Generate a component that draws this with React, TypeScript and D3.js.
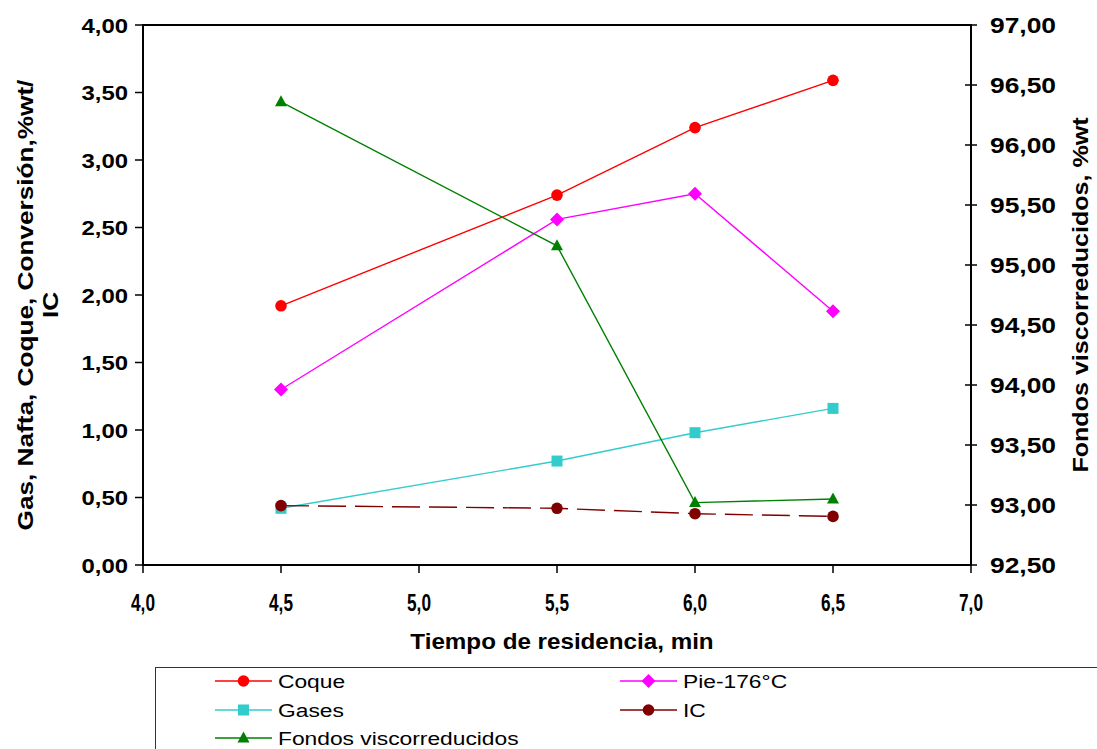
import React from "react";
import * as d3 from "d3";

const xValues = [4.5, 5.5, 6.0, 6.5];
const coque = [1.92, 2.74, 3.24, 3.59];
const pie176 = [1.3, 2.56, 2.75, 1.88];
const gases = [0.42, 0.77, 0.98, 1.16];
const ic = [0.44, 0.42, 0.38, 0.36];
const fondos = [96.36, 95.16, 93.02, 93.05];

const xTicks = [4.0, 4.5, 5.0, 5.5, 6.0, 6.5, 7.0];
const yLeftTicks = [0, 0.5, 1, 1.5, 2, 2.5, 3, 3.5, 4];
const yRightTicks = [92.5, 93, 93.5, 94, 94.5, 95, 95.5, 96, 96.5, 97];

const W = 1097;
const H = 749;
const L = 143, R = 971, T = 25, B = 565;
const FONT = "'Liberation Sans', Arial, sans-serif";

type Marker = "circle" | "diamond" | "square" | "triangle";

function MarkerShape({ type, x, y, color }: { type: Marker; x: number; y: number; color: string }) {
  if (type === "circle") return <circle cx={x} cy={y} r={5.8} fill={color} />;
  if (type === "diamond")
    return <path d={`M${x},${y - 7}L${x + 7},${y}L${x},${y + 7}L${x - 7},${y}Z`} fill={color} />;
  if (type === "square") return <rect x={x - 5.5} y={y - 5.5} width={11} height={11} fill={color} />;
  return <path d={`M${x},${y - 6.5}L${x + 6},${y + 4.5}L${x - 6},${y + 4.5}Z`} fill={color} />;
}

export default function App() {
  const x = d3.scaleLinear().domain([4, 7]).range([L, R]);
  const yL = d3.scaleLinear().domain([0, 4]).range([B, T]);
  const yR = d3.scaleLinear().domain([92.5, 97]).range([B, T]);
  const fmt2 = (v: number) => d3.format(".2f")(v).replace(".", ",");
  const fmt1 = (v: number) => d3.format(".1f")(v).replace(".", ",");

  const series = [
    { name: "Coque", vals: coque, color: "#FF0000", marker: "circle" as Marker, axis: "L", dash: "" },
    { name: "Pie-176°C", vals: pie176, color: "#FF00FF", marker: "diamond" as Marker, axis: "L", dash: "" },
    { name: "Gases", vals: gases, color: "#33CCCC", marker: "square" as Marker, axis: "L", dash: "" },
    { name: "IC", vals: ic, color: "#800000", marker: "circle" as Marker, axis: "L", dash: "28,9" },
    { name: "Fondos viscorreducidos", vals: fondos, color: "#008000", marker: "triangle" as Marker, axis: "R", dash: "" },
  ];

  const legendPos = [
    { lx: 215, ty: 681 },
    { lx: 620, ty: 681 },
    { lx: 215, ty: 710 },
    { lx: 620, ty: 710 },
    { lx: 215, ty: 738 },
  ];

  return (
    <svg width={W} height={H} style={{ position: "absolute", left: 0, top: 0, background: "#fff" }} fontFamily={FONT}>
      <rect x={0} y={0} width={W} height={H} fill="#fff" />
      {/* frame */}
      <rect x={L} y={T} width={R - L} height={B - T} fill="none" stroke="#000" strokeWidth={2} />
      {/* left ticks */}
      {yLeftTicks.map((t) => (
        <g key={"yl" + t}>
          <line x1={L - 8} x2={L} y1={yL(t)} y2={yL(t)} stroke="#000" strokeWidth={1.5} />
          <text
            transform={`translate(128,${yL(t)}) scale(1.14,1)`}
            dy="0.36em"
            textAnchor="end"
            fontSize={21}
            fontWeight="bold"
          >
            {fmt2(t)}
          </text>
        </g>
      ))}
      {yRightTicks.map((t) => (
        <g key={"yr" + t}>
          <line x1={R - 6} x2={R + 6} y1={yR(t)} y2={yR(t)} stroke="#000" strokeWidth={1.5} />
          <text
            transform={`translate(990,${yR(t)}) scale(1.2,1)`}
            dy="0.36em"
            textAnchor="start"
            fontSize={22}
            fontWeight="bold"
          >
            {fmt2(t)}
          </text>
        </g>
      ))}
      {xTicks.map((t) => (
        <g key={"x" + t}>
          <line x1={x(t)} x2={x(t)} y1={B} y2={B + 8} stroke="#000" strokeWidth={1.5} />
          <text
            transform={`translate(${x(t)},${611}) scale(0.75,1)`}
            textAnchor="middle"
            fontSize={23}
            fontWeight="bold"
          >
            {fmt1(t)}
          </text>
        </g>
      ))}
      {/* axis titles */}
      <text transform={`translate(${562},${649}) scale(1.1,1)`} textAnchor="middle" fontSize={22} fontWeight="bold">
        Tiempo de residencia, min
      </text>
      <text transform={`translate(${33},${305}) rotate(-90) scale(1.19,1)`} textAnchor="middle" fontSize={22} fontWeight="bold">
        Gas, Nafta, Coque, Conversión,%wt/
      </text>
      <text transform={`translate(${58},${305}) rotate(-90) scale(1.19,1)`} textAnchor="middle" fontSize={22} fontWeight="bold">
        IC
      </text>
      <text transform={`translate(${1088},${295}) rotate(-90) scale(1.14,1)`} textAnchor="middle" fontSize={22} fontWeight="bold">
        Fondos viscorreducidos, %wt
      </text>

      {/* series */}
      {series.map((s) => {
        const ys = s.axis === "L" ? yL : yR;
        const line = d3
          .line<number>()
          .x((_, i) => x(xValues[i]))
          .y((v) => ys(v));
        return (
          <g key={s.name}>
            <path d={line(s.vals) || ""} fill="none" stroke={s.color} strokeWidth={1.4} strokeDasharray={s.dash || undefined} />
            {s.vals.map((v, i) => (
              <MarkerShape key={i} type={s.marker} x={x(xValues[i])} y={ys(v)} color={s.color} />
            ))}
          </g>
        );
      })}

      {/* legend */}
      <rect x={155.5} y={667.5} width={1000} height={100} fill="#fff" stroke="#333" strokeWidth={1} />
      {series.map((s, i) => {
        const p = legendPos[i];
        return (
          <g key={"lg" + s.name}>
            <line x1={p.lx} x2={p.lx + 57} y1={p.ty} y2={p.ty} stroke={s.color} strokeWidth={1.5} />
            <MarkerShape type={s.marker} x={p.lx + 28.5} y={p.ty} color={s.color} />
            <text transform={`translate(${p.lx + 63},${p.ty}) scale(1.2,1)`} dy="0.36em" fontSize={19}>
              {s.name}
            </text>
          </g>
        );
      })}
    </svg>
  );
}
